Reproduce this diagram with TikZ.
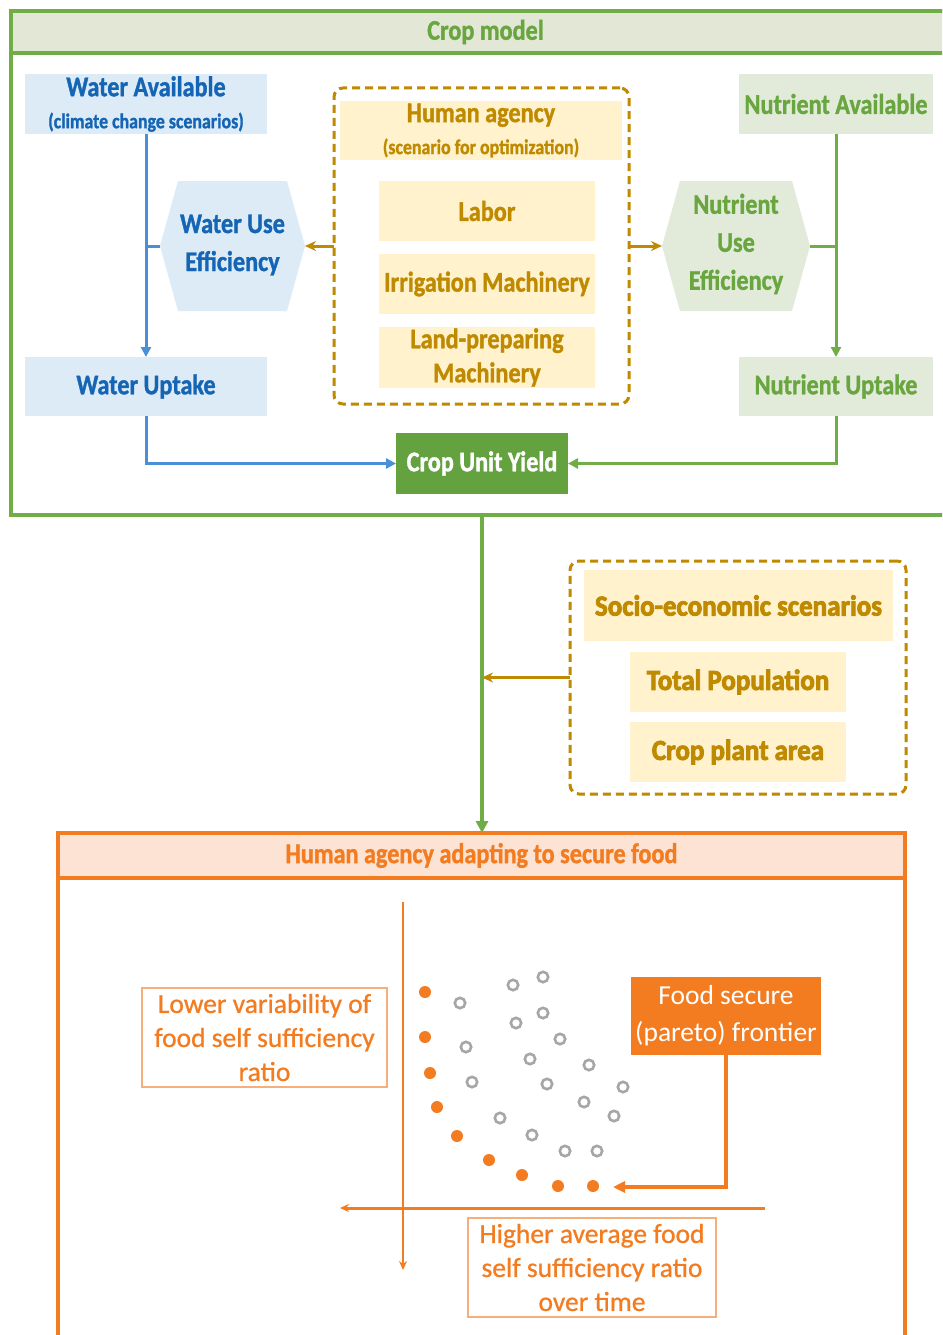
\documentclass[tikz,border=0pt]{standalone}
\usepackage{fontspec}
\setmainfont{Carlito}
\newfontfamily\cf[FakeStretch=0.85,FakeBold=1.2]{Carlito}
\newfontfamily\hf[FakeStretch=0.93,FakeBold=3]{Carlito}
\newfontfamily\rf[FakeBold=0.8]{Carlito}
\newfontfamily\wf{Carlito}
\usetikzlibrary{arrows.meta}
\definecolor{gline}{HTML}{70AD47}
\definecolor{gtext}{HTML}{6AA640}
\definecolor{gfill}{HTML}{E2EBDA}
\definecolor{ghead}{HTML}{E2E7D6}
\definecolor{gdark}{HTML}{64A23F}
\definecolor{bline}{HTML}{4A90D9}
\definecolor{btext}{HTML}{1565B5}
\definecolor{bfill}{HTML}{DDEBF7}
\definecolor{gold}{HTML}{BF8A00}
\definecolor{goldfill}{HTML}{FFF2CC}
\definecolor{orng}{HTML}{F47C20}
\definecolor{ofill}{HTML}{FDE3D3}
\definecolor{olight}{HTML}{F6AE7A}
\definecolor{ring}{HTML}{A6A6A6}
\begin{document}
\begin{tikzpicture}[x=1pt,y=-1pt,
  base/.style={rectangle, inner sep=0pt, outer sep=0pt, align=center},
  bigtxt/.style={font=\cf\bfseries\fontsize{28.5}{38}\selectfont},
  bluebox/.style={base, bigtxt, fill=bfill, text=btext},
  greenbox/.style={base, bigtxt, fill=gfill, text=gtext},
  goldbox/.style={base, bigtxt, fill=goldfill, text=gold},
  sebox/.style={base, font=\hf\bfseries\fontsize{29}{34}\selectfont, fill=goldfill, text=gold},
  dashbox/.style={base, draw=gold, line width=3pt, dash pattern=on 8pt off 5pt, rounded corners=9pt},
  barrow/.style={draw=bline, line width=3pt, -{Triangle[length=10pt,width=10pt]}},
  garrow/.style={draw=gline, line width=3pt, -{Triangle[length=10pt,width=10pt]}},
  goarrow/.style={draw=gold, line width=3pt, -{Stealth[length=11pt,width=10pt]}},
  oarrow/.style={draw=orng, line width=4pt, -{Triangle[length=12pt,width=11pt]}},
  axis/.style={draw=orng, -{Stealth[length=9pt,width=8pt]}},
  lightbox/.style={base, draw=olight, line width=1.2pt, text=orng, font=\rf\fontsize{27.5}{34}\selectfont},
  dot/.style={fill=orng},
  ringc/.style={draw=ring, line width=2.6pt}
]
\useasboundingbox (0,0) rectangle (942,1335);
\clip (0,0) rectangle (942,1335);
\fill[white] (0,0) rectangle (942,1335);

% ---------------- Crop model frame ----------------
\node[base, draw=gline, line width=3.5pt, minimum width=949pt, minimum height=504pt] (cm) at (485.5,263) {};
\node[base, draw=gline, fill=ghead, line width=3.5pt, minimum width=949pt, minimum height=42pt,
      bigtxt, text=gtext] (cmh) at (485.5,32) {Crop model};

% water side
\node[bluebox, minimum width=242pt, minimum height=60pt] (wa) at (146,104)
  {\fontsize{28.5}{30}\selectfont Water Available\\[-6pt]{\fontsize{21}{24}\selectfont (climate change scenarios)}};
\node[bluebox, minimum width=242pt, minimum height=59pt] (wu) at (146,386.5) {Water Uptake};
\fill[bfill] (160,246) -- (178,181) -- (287,181) -- (305,246) -- (287,311) -- (178,311) -- cycle;
\coordinate (wuel) at (160,246);
\coordinate (wuer) at (305,246);
\node[base, bigtxt, text=btext] (wue) at (232.5,245) {Water Use\\Efficiency};

% nutrient side
\node[greenbox, minimum width=194pt, minimum height=60pt] (na) at (836,104) {Nutrient Available};
\node[greenbox, minimum width=194pt, minimum height=59pt] (nu) at (836,386.5) {Nutrient Uptake};
\fill[gfill] (662,246) -- (680,181) -- (792,181) -- (810,246) -- (792,311) -- (680,311) -- cycle;
\coordinate (nuel) at (662,246);
\coordinate (nuer) at (810,246);
\node[base, bigtxt, text=gtext] (nue) at (736,244) {Nutrient\\Use\\Efficiency};

% human agency group
\node[dashbox, minimum width=295pt, minimum height=316pt] (hab) at (481.5,246) {};
\node[goldbox, minimum width=282pt, minimum height=59pt] (ha) at (481,130.5)
  {\fontsize{28.5}{30}\selectfont Human agency\\[-6pt]{\fontsize{21}{24}\selectfont (scenario for optimization)}};
\node[goldbox, minimum width=216pt, minimum height=60pt] (lab) at (487,211) {Labor};
\node[goldbox, minimum width=216pt, minimum height=60pt] (irr) at (487,284) {Irrigation Machinery};
\node[goldbox, minimum width=216pt, minimum height=61pt, font=\cf\bfseries\fontsize{28.5}{34}\selectfont] (lpm) at (487,357.5) {Land-preparing\\Machinery};

% crop unit yield
\node[base, bigtxt, fill=gdark, text=white, minimum width=172pt, minimum height=61pt] (cuy) at (482,463.5) {Crop Unit Yield};

% connectors top
\draw[barrow] (wa.south) -- (wu.north);
\draw[draw=bline, line width=3pt] (wuel) -- (wuel -| wa.south);
\draw[barrow] (wu.south) |- (cuy.west);
\draw[garrow] (na.south) -- (nu.north);
\draw[draw=gline, line width=3pt] (nuer) -- (nuer -| na.south);
\draw[garrow] (nu.south) |- (cuy.east);
\draw[goarrow] (hab.west) -- (wuer);
\draw[goarrow] (hab.east) -- (nuel);

% ---------------- socio-economic ----------------
\node[dashbox, minimum width=336pt, minimum height=233pt] (se) at (738,677.5) {};
\node[sebox, minimum width=309pt, minimum height=71pt] (ses) at (738.5,605.5) {Socio-economic scenarios};
\node[sebox, minimum width=216pt, minimum height=60pt] (tp) at (738,682) {Total Population};
\node[sebox, minimum width=216pt, minimum height=60pt] (cpa) at (738,752) {Crop plant area};

% ---------------- bottom frame ----------------
\node[base, draw=orng, line width=3.5pt, minimum width=847pt, minimum height=567pt] (hb) at (481.5,1116.5) {};
\node[base, draw=orng, fill=ofill, line width=3.5pt, minimum width=847pt, minimum height=45pt,
      bigtxt, text=orng] (hbh) at (481.5,855.5) {Human agency adapting to secure food};

\draw[draw=gline, line width=4pt, -{Triangle[length=12pt,width=12pt]}] (cuy |- cm.south) -- (cuy |- hbh.north);
\draw[goarrow] (se.west) -- (se.west -| cuy);

% plot
\coordinate (vtop) at (403,902);
\coordinate (vbot) at (403,1270);
\coordinate (hright) at (765,1208);
\coordinate (hleft) at (340,1208);
\draw[axis, line width=2pt] (vtop) -- (vbot);
\draw[axis, line width=3pt] (hright) -- (hleft);

\foreach \p in {(513,985),(543,977),(460,1003),(516,1023),(543,1013),(560,1039),(466,1047),(530,1059),(589,1065),(472,1082),(547,1084),(623,1087),(584,1102),(614,1116),(500,1118),(532,1135),(565,1151),(597,1151)}
  \draw[ringc] \p circle (5.2pt);
\foreach \p in {(425,992),(425,1037),(430,1073),(437,1107),(457,1136),(489,1160),(522,1175),(558,1186),(593,1186)}
  \fill[dot] \p circle (6pt);

\node[lightbox, minimum width=245pt, minimum height=99pt] (lv) at (264.5,1037.5) {Lower variability of\\food self sufficiency\\ratio};
\node[lightbox, minimum width=248pt, minimum height=99pt] (hv) at (592,1267.5) {Higher average food\\self sufficiency ratio\\over time};
\node[base, fill=orng, text=white, font=\wf\fontsize{27.5}{37}\selectfont, minimum width=190pt, minimum height=78pt] (fs) at (726,1016) {Food secure\\(pareto) frontier};
\coordinate (fsend) at (613,1187);
\draw[oarrow] (fs.south) |- (fsend);
\end{tikzpicture}
\end{document}
